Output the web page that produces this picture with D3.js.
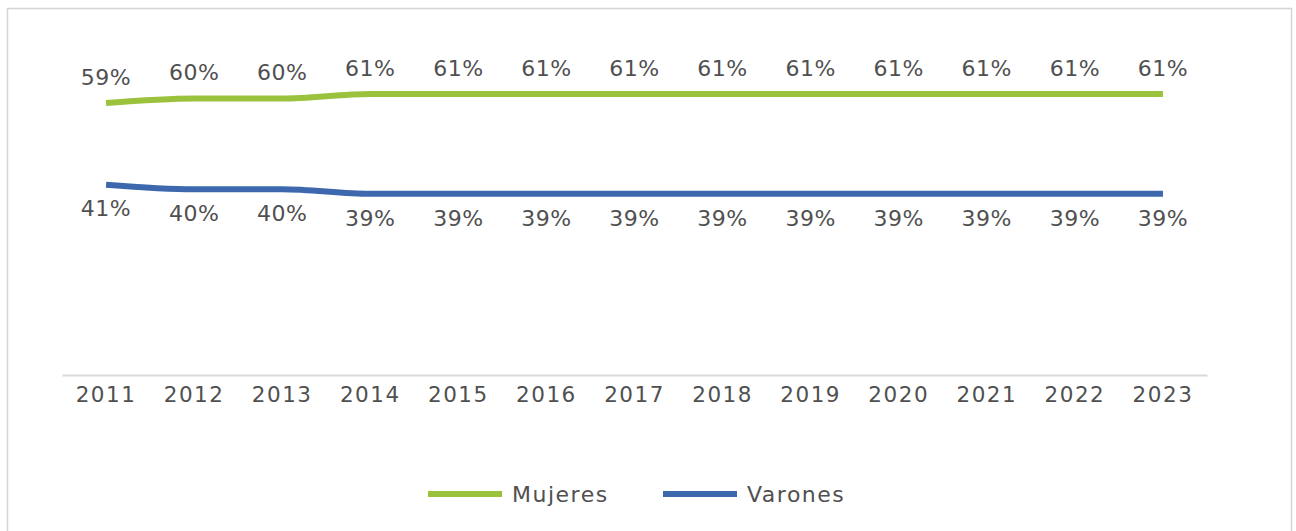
<!DOCTYPE html>
<html>
<head>
<meta charset="utf-8">
<script src="https://cdn.jsdelivr.net/npm/d3@7"></script>
<style>
  body { margin: 0; background: #fff; }
  text { font-family: "DejaVu Sans", sans-serif; fill: #505050; }
</style>
</head>
<body>
<div id="chart"></div>
<script>

var years = ["2011", "2012", "2013", "2014", "2015", "2016", "2017", "2018", "2019", "2020", "2021", "2022", "2023"];
var mujeres = [59, 60, 60, 61, 61, 61, 61, 61, 61, 61, 61, 61, 61];
var varones = [41, 40, 40, 39, 39, 39, 39, 39, 39, 39, 39, 39, 39];
var seriesNames = ["Mujeres", "Varones"];
var seriesColors = ["#9bc23c", "#3d68ad"];

var width = 1296,
    height = 531;

var svg = d3.select("#chart").append("svg")
    .attr("width", width)
    .attr("height", height);

// outer chart border (bottom edge is cut off in the picture)
svg.append("rect")
    .attr("x", 7.5)
    .attr("y", 8.5)
    .attr("width", 1284)
    .attr("height", 540)
    .attr("fill", "none")
    .attr("stroke", "#d4d4d4")
    .attr("stroke-width", 1.5);

var x = d3.scaleBand()
    .domain(years)
    .range([62, 1207]);

var y = d3.scaleLinear()
    .domain([0, 70])
    .range([371, 53]);

// category axis
var xAxis = svg.append("g")
    .attr("transform", "translate(0,375)")
    .call(d3.axisBottom(x).tickSize(0).tickPadding(12));
xAxis.select(".domain").attr("stroke", "#d9d9d9").attr("stroke-width", 2);
xAxis.selectAll("text")
    .style("font-family", "DejaVu Sans, sans-serif")
    .style("font-size", "21.5px")
    .style("letter-spacing", "1.5px")
    .attr("fill", "#505050");

var line = d3.line()
    .x(function (d, i) { return x(years[i]) + x.bandwidth() / 2; })
    .y(function (d) { return y(d); })
    .curve(d3.curveMonotoneX);

var series = [mujeres, varones];

series.forEach(function (values, s) {
    svg.append("path")
        .datum(values)
        .attr("d", line)
        .attr("fill", "none")
        .attr("stroke", seriesColors[s])
        .attr("stroke-width", 6);

    // data labels: above for Mujeres, below for Varones
    svg.selectAll(".lbl" + s)
        .data(values)
        .enter().append("text")
        .attr("class", "lbl" + s)
        .attr("x", function (d, i) { return x(years[i]) + x.bandwidth() / 2; })
        .attr("y", function (d) { return s === 0 ? y(d) - 26 : y(d) + 24; })
        .attr("dy", "0.35em")
        .attr("text-anchor", "middle")
        .style("font-size", "22px")
        .style("letter-spacing", "0.5px")
        .text(function (d) { return d + "%"; });
});

// legend
var legendX = [428, 663];
seriesNames.forEach(function (name, s) {
    var lg = svg.append("g").attr("transform", "translate(" + legendX[s] + ",494)");
    lg.append("line")
        .attr("x1", 0).attr("x2", 74)
        .attr("y1", 0).attr("y2", 0)
        .attr("stroke", seriesColors[s])
        .attr("stroke-width", 6);
    lg.append("text")
        .attr("x", 84)
        .attr("dy", "0.35em")
        .style("font-size", "22px")
        .style("letter-spacing", "1.5px")
        .text(name);
});

</script>
</body>
</html>
